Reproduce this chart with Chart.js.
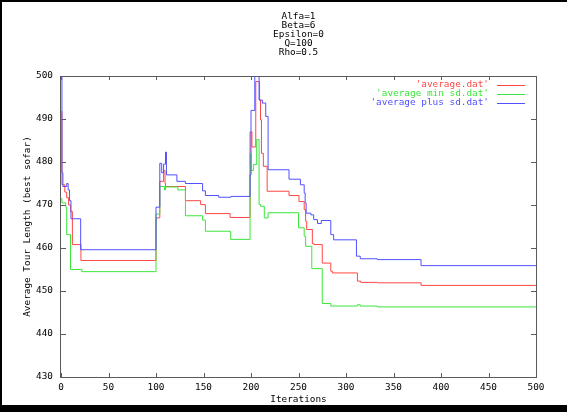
<!DOCTYPE html>
<html>
<head>
<meta charset="utf-8">
<title>Average Tour Length</title>
<script src="https://cdn.jsdelivr.net/npm/chart.js@4.4.1/dist/chart.umd.min.js"></script>
<style>
    html, body { margin: 0; padding: 0; background: #fff; }
    #wrap { width: 567px; height: 412px; }
</style>
</head>
<body>
<div id="wrap"><canvas id="tourChart" width="567" height="412"></canvas></div>
<script>
// Parameters shown above the plot
const titleLines = ['Alfa=1', 'Beta=6', 'Epsilon=0', 'Q=100', 'Rho=0.5'];

// 'average.dat' - iteration where the value changes, and the new value
const avgIter = [0, 1, 4, 6, 8, 10, 12, 21, 100, 104, 108, 109.5, 110, 131, 147, 152, 178,
    199, 201, 205, 209, 210, 211, 213, 217, 240, 250.5, 256, 257.5, 258.6, 264.6, 266.3, 275,
    284, 285.6, 312, 315.5, 333, 379, 500];
const avgVal = [491.7, 474.7, 473, 471.7, 470, 468.5, 460.8, 457.1, 467, 475.5, 478, 475, 474.3, 471, 470.1, 468, 467.1,
    487, 483.5, 498.7, 494.4, 489.8, 482, 479, 473.2, 472.2, 470.8, 468.9, 466.2, 464.3, 461, 460.8, 456.5,
    454.6, 454.2, 452.3, 452, 451.9, 451.3, 451.3];

// 'average min sd.dat'
const minIter = [0, 1, 5, 6, 10, 22, 100, 104, 109, 110, 123, 131, 149, 152, 178.6,
    199, 200, 202.5, 206, 208.5, 210, 214, 218, 250, 256, 257.5, 264, 275, 284, 312, 315, 333, 500];
const minVal = [471.5, 470.5, 469.5, 463.1, 455, 454.5, 467.9, 474.3, 473.5, 474.2, 473.5, 467.5, 466.5, 463.9, 462,
    482, 478, 479.4, 485.2, 470.1, 469.7, 467, 468.2, 464.7, 462.7, 460.4, 455.2, 447.1, 446.5, 446.8, 446.5, 446.3, 446.3];

// 'average plus sd.dat'
const plusIter = [0, 1, 2, 6, 7.5, 9, 10.5, 20.7, 100, 104, 106, 108, 110, 111, 122, 131, 149, 152, 166, 179,
    199, 200, 204, 208.5, 212, 215.5, 218, 240, 252, 256, 257, 258, 263, 266, 270, 274,
    284, 287, 311, 315, 333, 379, 500];
const plusVal = [510, 477.5, 474.3, 475, 473.5, 471, 466.8, 459.6, 469.5, 479.7, 477.5, 479.5, 482.3, 477, 475.5, 475, 473.3, 472.2, 471.8, 472,
    477, 492, 503, 494.4, 493.7, 490.6, 478.2, 476, 474.7, 472.8, 470.5, 468.1, 467.7, 466.6, 465.7, 466.4,
    463.1, 461.9, 458.1, 457.5, 457.3, 455.9, 455.9];

// Axis ranges and tick steps
const xMin = 0, xMax = 500, xStep = 50;
const yMin = 430, yMax = 500, yStep = 10;

const FONT = '"DejaVu Sans Mono", "Liberation Mono", monospace';
const FONT_SIZE = 9.4;
const AXIS_GREY = '#5a5a5a';

function toPoints(xs, ys) {
    return xs.map((x, i) => ({ x: x, y: ys[i] }));
}

// Frame, gnuplot style inner ticks, title and key
const gnuplotLook = {
    id: 'gnuplotLook',
    beforeDraw(chart) {
        const ctx = chart.ctx;
        ctx.save();
        ctx.fillStyle = '#fff';
        ctx.fillRect(0, 0, chart.width, chart.height);
        // black picture frame
        ctx.fillStyle = '#000';
        ctx.fillRect(0, 0, chart.width, 2);
        ctx.fillRect(0, 0, 2, chart.height);
        ctx.fillRect(0, 405, chart.width, chart.height - 405);
        ctx.restore();
    },
    beforeDatasetsDraw(chart) {
        const ctx = chart.ctx;
        const a = chart.chartArea;
        const xs = chart.scales.x, ys = chart.scales.y;
        ctx.save();
        ctx.strokeStyle = AXIS_GREY;
        ctx.lineWidth = 1;
        ctx.strokeRect(Math.round(a.left) - 0.5, Math.round(a.top) + 0.5,
            Math.round(a.right - a.left) + 1, Math.round(a.bottom - a.top));
        ctx.beginPath();
        xs.ticks.forEach(t => {
            const px = Math.round(xs.getPixelForValue(t.value)) + 0.5;
            ctx.moveTo(px, a.bottom); ctx.lineTo(px, a.bottom - 4);
            ctx.moveTo(px, a.top); ctx.lineTo(px, a.top + 4);
        });
        ys.ticks.forEach(t => {
            const py = Math.round(ys.getPixelForValue(t.value)) + 0.5;
            ctx.moveTo(a.left, py); ctx.lineTo(a.left + 5, py);
            ctx.moveTo(a.right, py); ctx.lineTo(a.right - 5, py);
        });
        ctx.stroke();
        ctx.restore();
    },
    afterDraw(chart) {
        const ctx = chart.ctx;
        const a = chart.chartArea;
        ctx.save();
        ctx.font = FONT_SIZE + 'px ' + FONT;
        ctx.textBaseline = 'middle';

        // title block
        ctx.fillStyle = '#000';
        ctx.textAlign = 'center';
        titleLines.forEach((line, i) => {
            ctx.fillText(line, (a.left + a.right) / 2, 17 + i * 9);
        });

        // key, top right inside the plot
        ctx.textAlign = 'right';
        chart.data.datasets.forEach((ds, i) => {
            const y = 85 + i * 9;
            ctx.fillStyle = ds.borderColor;
            ctx.fillText("'" + ds.label + "'", 489, y);
            ctx.strokeStyle = ds.borderColor;
            ctx.lineWidth = 1;
            ctx.beginPath();
            ctx.moveTo(497, y + 0.5);
            ctx.lineTo(525, y + 0.5);
            ctx.stroke();
        });
        ctx.restore();
    }
};

document.addEventListener('DOMContentLoaded', function() {
    const ctx = document.getElementById('tourChart').getContext('2d');
    new Chart(ctx, {
        type: 'line',
        data: {
            datasets: [
                {
                    label: 'average.dat',
                    data: toPoints(avgIter, avgVal),
                    borderColor: 'rgb(255,70,70)',
                    order: 2
                },
                {
                    label: 'average min sd.dat',
                    data: toPoints(minIter, minVal),
                    borderColor: 'rgb(60,230,60)',
                    order: 1
                },
                {
                    label: 'average plus sd.dat',
                    data: toPoints(plusIter, plusVal),
                    borderColor: 'rgb(80,80,255)',
                    order: 0
                }
            ]
        },
        options: {
            responsive: false,
            animation: false,
            devicePixelRatio: 1,
            layout: { padding: { left: 0, top: 76, right: 31, bottom: 0 } },
            elements: {
                // value holds from its iteration until the next change
                line: { borderWidth: 1, stepped: 'before', fill: false },
                point: { radius: 0 }
            },
            plugins: {
                legend: { display: false },
                title: { display: false },
                tooltip: { enabled: false }
            },
            scales: {
                x: {
                    type: 'linear',
                    min: xMin,
                    max: xMax,
                    grid: { display: false, drawTicks: false },
                    border: { display: false },
                    ticks: {
                        stepSize: xStep,
                        padding: 5,
                        color: '#000',
                        maxRotation: 0,
                        font: { family: FONT, size: FONT_SIZE }
                    },
                    title: {
                        display: true,
                        text: 'Iterations',
                        color: '#000',
                        font: { family: FONT, size: FONT_SIZE },
                        padding: { top: 0, bottom: 6.4 }
                    },
                    afterFit(scale) { scale.height = 35; }
                },
                y: {
                    min: yMin,
                    max: yMax,
                    grid: { display: false, drawTicks: false },
                    border: { display: false },
                    ticks: {
                        stepSize: yStep,
                        padding: 8,
                        color: '#000',
                        font: { family: FONT, size: FONT_SIZE }
                    },
                    title: {
                        display: true,
                        text: 'Average Tour Length (best sofar)',
                        color: '#000',
                        font: { family: FONT, size: FONT_SIZE },
                        padding: { top: 22.4, bottom: 0 }
                    },
                    afterFit(scale) { scale.width = 61; }
                }
            }
        },
        plugins: [gnuplotLook]
    });
});
</script>
</body>
</html>
